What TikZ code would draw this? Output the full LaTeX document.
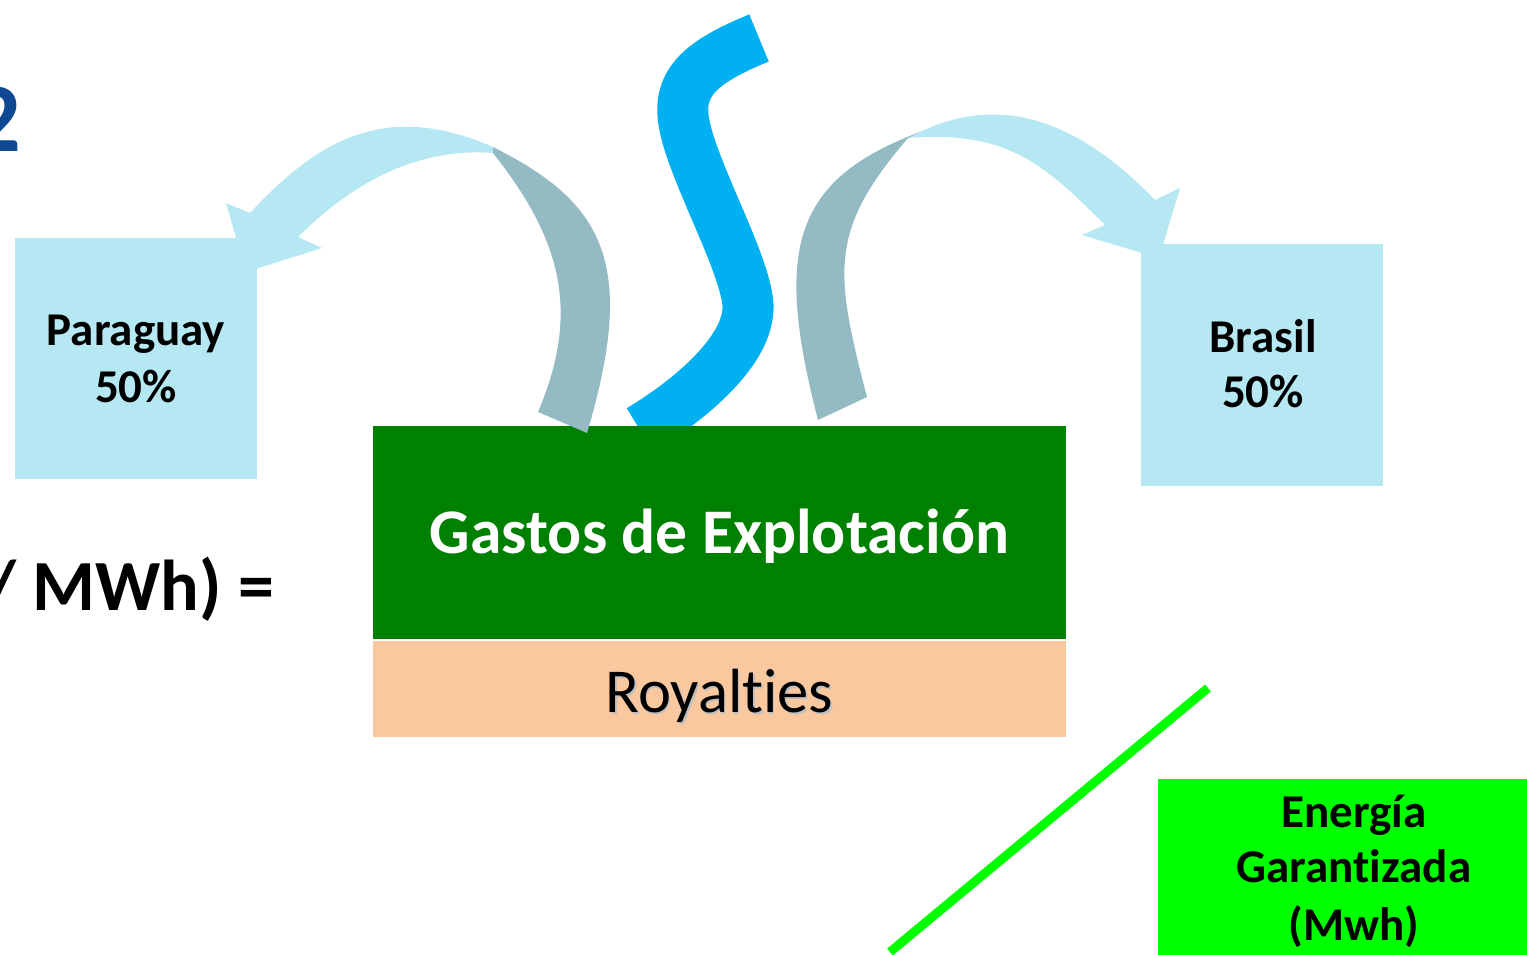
\documentclass[tikz,border=0pt]{standalone}
\usepackage{fontspec}
\setmainfont{Carlito}[Ligatures=NoCommon]
\definecolor{lightc}{RGB}{181,232,243}
\definecolor{grayc}{RGB}{148,187,196}
\definecolor{riverc}{RGB}{0,176,240}
\definecolor{greenc}{RGB}{0,128,0}
\definecolor{peachc}{RGB}{250,200,158}
\definecolor{limec}{RGB}{0,255,0}
\definecolor{titleblue}{RGB}{14,72,146}
\tikzset{
  boxnode/.style={draw=none, inner sep=0pt, outer sep=0pt},
  txt/.style={inner sep=0pt, outer sep=0pt, anchor=base},
  bigbold/.style={font=\bfseries\fontsize{47}{56}\selectfont},
}
\begin{document}
\begin{tikzpicture}[x=1pt,y=-1pt]
\clip (0,0) rectangle (1527,955);
\fill[white] (0,0) rectangle (1527,955);

% river
\draw[riverc, line width=51pt]
  (759,38) .. controls (705,60) and (680,80) .. (683,115)
  .. controls (686,160) and (745,260) .. (748,305)
  .. controls (750,350) and (690,400) .. (640,430);

% main boxes
\node[boxnode, fill=greenc, minimum width=693pt, minimum height=213pt] (gastos) at (719.5,532.5) {};
\node[boxnode, fill=peachc, minimum width=693pt, minimum height=96pt] (roy) at (719.5,689) {};

% left curved arrow (front, light part)
\fill[lightc] (493,147) .. controls (385,100) and (318,140) .. (250,213)
  -- (226,203) -- (246,272) -- (322,248) -- (298,237)
  .. controls (348,187) and (413,147) .. (493,153) -- cycle;
% left curved arrow (back, darker part)
\fill[grayc] (493,147) .. controls (603,202) and (638,262) .. (587,433)
  -- (538,412)
  .. controls (581,311) and (561,239) .. (493,153) -- cycle;

% right curved arrow (front, light part)
\fill[lightc] (920,132) .. controls (1012,88) and (1090,133) .. (1155,200)
  -- (1180,188) -- (1159,258) -- (1082,235) -- (1105,225)
  .. controls (1045,165) and (1008,130) .. (908,138) -- cycle;
% right curved arrow (back, darker part)
\fill[grayc] (920,132) .. controls (792,180) and (774,250) .. (818,420)
  -- (867,397)
  .. controls (834,271) and (829,230) .. (908,138) -- cycle;

% country boxes
\node[boxnode, fill=lightc, minimum width=242pt, minimum height=241pt] (py) at (136,358.5) {};
\node[boxnode, fill=lightc, minimum width=242pt, minimum height=242pt] (br) at (1262,365) {};

% texts
\node[txt, bigbold] (pyt1) at (136,345) {Paraguay};
\node[txt, bigbold] (pyt2) at (136,402) {50\%};
\node[txt, bigbold] (brt1) at (1263,352) {Brasil};
\node[txt, bigbold] (brt2) at (1263,407) {50\%};
\node[txt, font=\bfseries\fontsize{63.5}{70}\selectfont, text=white] (gt) at (719.5,553) {Gastos de Explotación};
\node[txt, font=\fontsize{62.5}{70}\selectfont, text=black!25] (rtsh) at (721,714) {Royalties};
\node[txt, font=\fontsize{62.5}{70}\selectfont] (rt) at (719.5,712) {Royalties};
\node[txt, anchor=base east, font=\bfseries\fontsize{72}{80}\selectfont] (mwh) at (274,610) {/ MWh) =};
\node[txt, anchor=base east, font=\bfseries\fontsize{98}{100}\selectfont, text=titleblue] (two) at (21,152) {2};

% green line
\coordinate (gl1) at (890,952);
\coordinate (gl2) at (1208,688);
\draw[limec, line width=9pt] (gl1) -- (gl2);

% energia box
\node[boxnode, fill=limec, minimum width=369pt, minimum height=176pt, anchor=north west] (eg) at (1158,779) {};
\node[txt, bigbold] (egt1) at (1354,827) {Energía};
\node[txt, bigbold] (egt2) at (1354,882) {Garantizada};
\node[txt, bigbold] (egt3) at (1354,940) {(Mwh)};
\end{tikzpicture}
\end{document}
